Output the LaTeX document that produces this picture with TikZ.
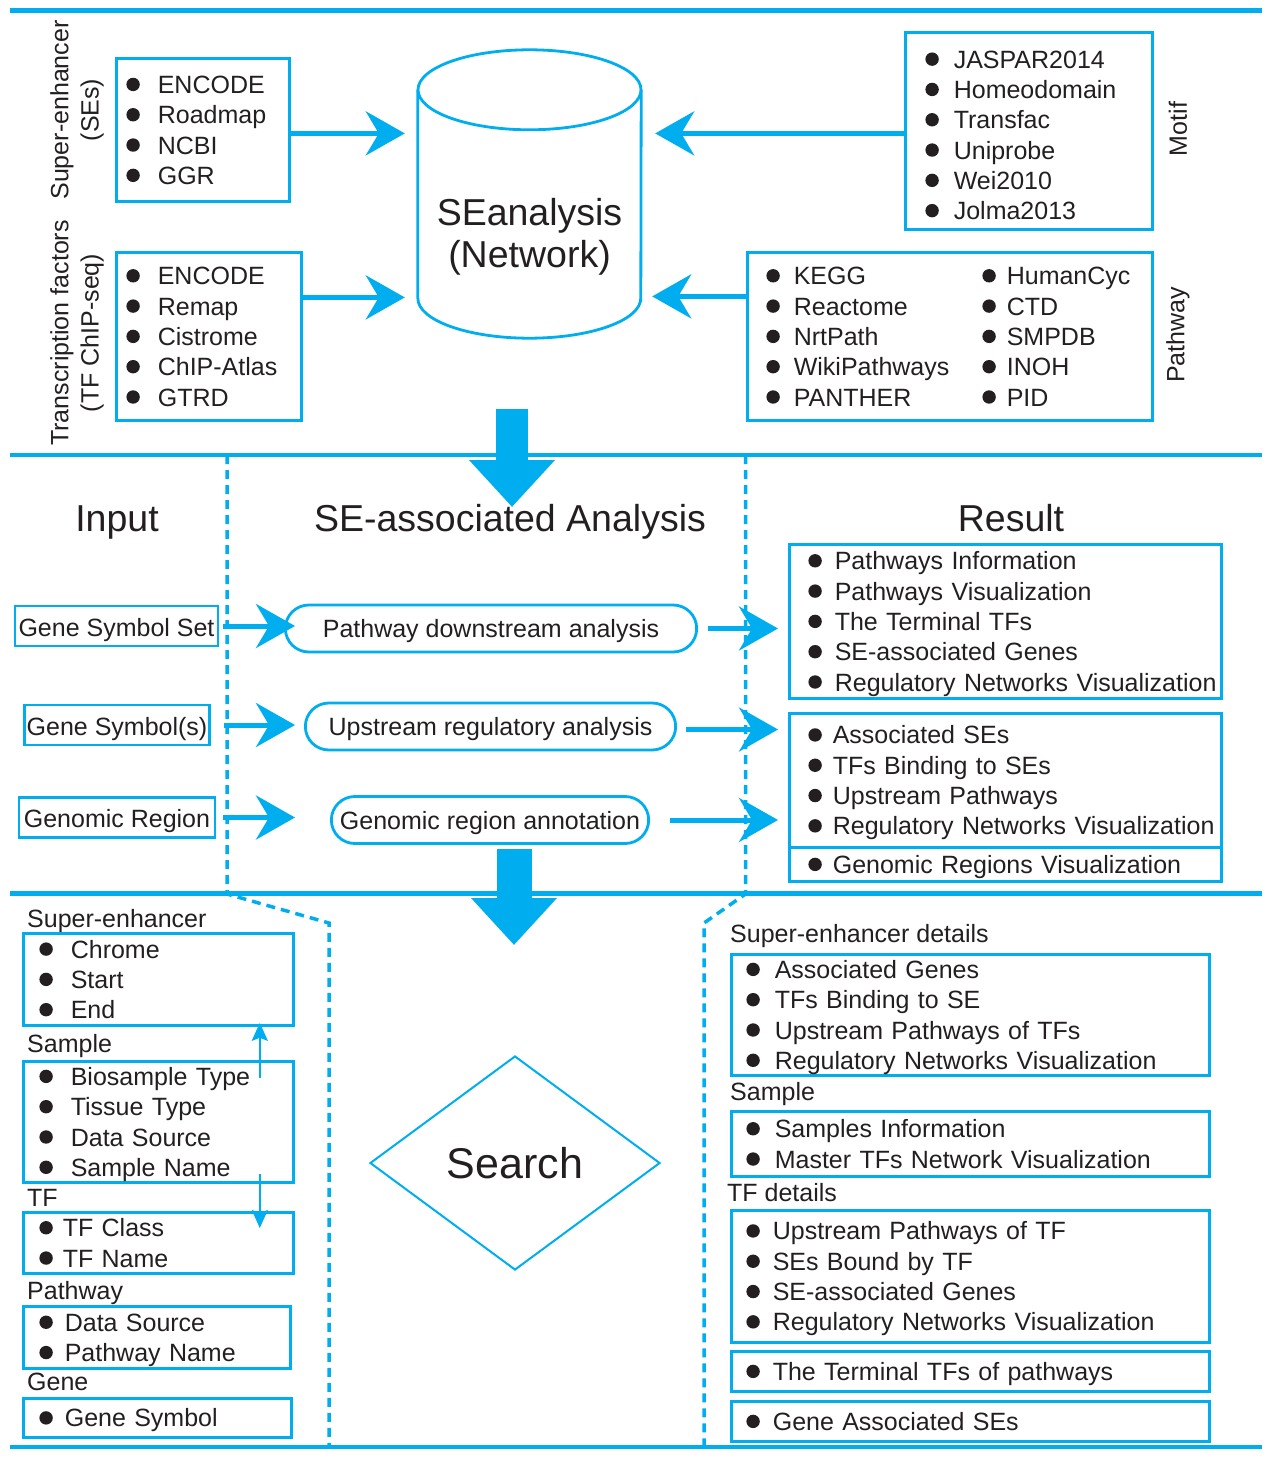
\documentclass[tikz,border=0pt]{standalone}
\usepackage{fontspec}
\setmainfont{Liberation Sans}
\usetikzlibrary{arrows.meta, shapes.geometric, shapes.misc, positioning, calc}
\definecolor{seblue}{HTML}{00AEEF}
\definecolor{ink}{HTML}{231F20}
\newlength\bulgap
\newlength\bulindent
\newcommand{\itemfont}{\fontsize{25}{30.3}\selectfont}
\newcommand{\bigfont}{\fontsize{37.5}{42}\selectfont}
\newcommand{\bulb}{\tikz[baseline=-9pt]{\path (0,-15pt) rectangle (0,15pt); \fill[ink] (0,0) circle (6.7pt);}\hspace{\bulgap}}
\newcommand{\bul}{\hspace*{\bulindent}\bulb}
\newcommand{\twocol}[2]{\makebox[\dimexpr216pt+\bulindent\relax][l]{\bul #1}{\setlength\bulgap{11pt}\bulb #2}}

\begin{document}
\begin{tikzpicture}[x=1pt, y=1pt,
    every node/.style={text=ink},
    rule/.style={seblue, line width=4.5pt},
    divider/.style={seblue, line width=3.5pt, dash pattern=on 9pt off 6pt},
    bgap/.code={\setlength\bulgap{#1}},
    bind/.code={\setlength\bulindent{#1}},
    listbox/.style={draw=seblue, line width=2.8pt, anchor=north west, align=left, inner xsep=3pt, inner ysep=0pt, font=\itemfont},
    inbox/.style={draw=seblue, line width=2.8pt, font=\itemfont, minimum height=40pt, inner xsep=2pt, inner ysep=0pt, text height=23pt, text depth=3pt},
    pill/.style={draw=seblue, line width=2.8pt, rounded rectangle, font=\itemfont, minimum height=47pt, inner ysep=0pt, text height=22pt, text depth=4pt},
    head/.style={font=\itemfont, anchor=base west, inner sep=0pt},
    side/.style={font=\itemfont, rotate=90, align=center, inner sep=0pt},
    title/.style={font=\bigfont, anchor=base, inner sep=0pt},
    bigarrow/.style={seblue, line width=5pt, -{Stealth[length=39pt, width=44pt, inset=13pt]}},
    thinarrow/.style={seblue, line width=2pt, -{Stealth[length=18pt, width=16pt, inset=3pt]}},
    fatarrow/.style={seblue, line width=#1, -{Triangle[length=47pt, width=83pt]}}
]
\useasboundingbox (0,0) rectangle (1269,-1463);

% section rules and dashed dividers
\foreach \y in {10.5,455,893.5,1447}
    \draw[rule] (10,-\y) -- (1262,-\y);
\draw[divider] (227,-455) -- (227,-894) -- (329,-923) -- (329,-1447);
\draw[divider] (745.5,-455) -- (745.5,-894) -- (704,-923) -- (704,-1447);

% data sources
\node[side] (seLab) at (77,-110) {Super-enhancer\\(SEs)};
\node[side] (tfLab) at (77,-333) {Transcription factors\\(TF ChIP-seq)};
\node[side] (motifLab) at (1178,-129) {Motif};
\node[side] (pathLab) at (1178,-335) {Pathway};

\node[listbox, bgap=18pt, bind=7pt, text width=167pt, minimum height=143pt] (seSrc) at (115,-57)
    {\bul ENCODE\\\bul Roadmap\\\bul NCBI\\\bul GGR};
\node[listbox, bgap=18pt, bind=7pt, text width=179pt, minimum height=168pt] (tfSrc) at (115,-251)
    {\bul ENCODE\\\bul Remap\\\bul Cistrome\\\bul ChIP-Atlas\\\bul GTRD};
\node[listbox, bgap=15pt, bind=17pt, text width=241pt, minimum height=197pt, text depth=149.5pt] (motif) at (904,-31)
    {\bul JASPAR2014\\\bul Homeodomain\\\bul Transfac\\\bul Uniprobe\\\bul Wei2010\\\bul Jolma2013};
\node[listbox, bgap=14pt, bind=16pt, text width=399pt, minimum height=168pt] (pathway) at (746,-251)
    {\twocol{KEGG}{HumanCyc}\\\twocol{Reactome}{CTD}\\\twocol{NrtPath}{SMPDB}\\\twocol{WikiPathways}{INOH}\\\twocol{PANTHER}{PID}};

% database cylinder
\node[font=\bigfont, align=center, minimum width=223pt, minimum height=202pt, inner sep=0pt] (db) at (529.5,-237) {SEanalysis\\(Network)};
\draw[seblue, line width=2.8pt] ([yshift=46pt]db.north) ellipse [x radius=111.5, y radius=40];
\draw[seblue, line width=2.8pt] ([yshift=46pt]db.north west) -- ([yshift=40pt]db.south west)
    arc [start angle=180, end angle=360, x radius=111.5, y radius=40] -- ([yshift=46pt]db.north east);

\coordinate (seOut) at ([yshift=-3.5pt]seSrc.east);
\coordinate (tfOut) at ([yshift=39pt]tfSrc.east);
\coordinate (motifOut) at ([yshift=-2.5pt]motif.west);
\coordinate (pathOut) at ([yshift=40pt]pathway.west);
\draw[bigarrow, shorten >=13pt] (seOut) -- (seOut -| db.west);
\draw[bigarrow, shorten >=13pt] (tfOut) -- (tfOut -| db.west);
\draw[bigarrow, shorten >=14pt] (motifOut) -- (motifOut -| db.east);
\draw[bigarrow, shorten >=11pt] (pathOut) -- (pathOut -| db.east);

\coordinate (fatA) at (512,-409);
\coordinate (fatB) at (512,-507);
\draw[fatarrow=32pt] (fatA) -- (fatB);

% analysis
\node[title] (inTitle) at (117,-531) {Input};
\node[title] (anTitle) at (510,-531) {SE-associated Analysis};
\node[title] (resTitle) at (1011,-531) {Result};

\node[inbox, minimum width=203pt] (geneSet) at (116.5,-626) {Gene Symbol Set};
\node[inbox, minimum width=184pt] (geneSyms) at (117,-725) {Gene Symbol(s)};
\node[inbox, minimum width=196pt] (genReg) at (117,-817.5) {Genomic Region};

\node[pill, minimum width=418pt] (pathDown) at (491,-628.5) {Pathway downstream analysis};
\node[pill, minimum width=377pt] (upReg) at (490.5,-726.5) {Upstream regulatory analysis};
\node[pill, minimum width=324pt] (genAnno) at (490,-820) {Genomic region annotation};

\node[listbox, bgap=13pt, bind=16pt, text width=426pt, minimum height=154pt] (res1) at (788,-543)
    {\bul Pathways Information\\\bul Pathways Visualization\\\bul The Terminal TFs\\\bul SE-associated Genes\\\bul Regulatory Networks Visualization};
\node[listbox, bgap=11pt, bind=16pt, text width=426pt, minimum height=134pt] (res2) at (788,-712)
    {\bul Associated SEs\\\bul TFs Binding to SEs\\\bul Upstream Pathways\\\bul Regulatory Networks Visualization};
\node[listbox, bgap=11pt, bind=16pt, text width=426pt, minimum height=34pt] (res3) at (788,-846)
    {\bul Genomic Regions Visualization};

\coordinate (inTip) at (295,0);
\draw[bigarrow, shorten <=4pt] (geneSet.east) -- (geneSet.east -| inTip);
\draw[bigarrow, shorten <=13pt] (geneSyms.east) -- (geneSyms.east -| inTip);
\draw[bigarrow, shorten <=7pt] (genReg.east) -- (genReg.east -| inTip);
\draw[bigarrow, shorten <=10pt, shorten >=10pt] (pathDown.east) -- (pathDown.east -| res1.west);
\draw[bigarrow, shorten <=9pt, shorten >=10pt] ([yshift=-3pt]upReg.east) -- ([yshift=-3pt]upReg.east -| res2.west);
\draw[bigarrow, shorten <=20pt, shorten >=10pt] (genAnno.east) -- (genAnno.east -| res2.west);

\coordinate (fatC) at (514,-849);
\coordinate (fatD) at (514,-945);
\draw[fatarrow=35pt] (fatC) -- (fatD);

% search
\node[head] (seHead) at (27,-927) {Super-enhancer};
\node[listbox, bgap=18pt, bind=13pt, text width=264pt, minimum height=92pt] (bSe) at (22,-932)
    {\bul Chrome\\\bul Start\\\bul End};
\node[head] (smHead) at (27,-1052) {Sample};
\node[listbox, bgap=18pt, bind=13pt, text width=264pt, minimum height=120pt] (bSm) at (22,-1060)
    {\bul Biosample Type\\\bul Tissue Type\\\bul Data Source\\\bul Sample Name};
\node[head] (tfHead) at (27,-1206) {TF};
\node[listbox, bgap=10pt, bind=13pt, text width=264pt, minimum height=61pt] (bTf) at (22,-1211)
    {\bul TF Class\\\bul TF Name};
\node[head] (pwHead) at (27,-1299) {Pathway};
\node[listbox, bgap=12pt, bind=13pt, text width=261pt, minimum height=62pt] (bPw) at (22,-1305)
    {\bul Data Source\\\bul Pathway Name};
\node[head] (gnHead) at (27,-1390) {Gene};
\node[listbox, bgap=12pt, bind=13pt, text width=262pt, minimum height=39pt] (bGn) at (22,-1397)
    {\bul Gene Symbol};

\draw[thinarrow] ([shift={(-35,-18)}]bSm.north east) -- ([shift={(-35,4)}]bSe.south east);
\draw[thinarrow] ([shift={(-35,10)}]bSm.south east) -- ([shift={(-35,-17)}]bTf.north east);

\node[diamond, draw=seblue, line width=2pt, minimum width=290pt, minimum height=214pt, inner sep=0pt, font=\fontsize{43}{48}\selectfont] (search) at (515,-1163) {Search};

\node[head] (rSeHead) at (730,-942) {Super-enhancer details};
\node[listbox, bgap=15pt, bind=12pt, text width=472pt, minimum height=120pt] (rSe) at (730,-953)
    {\bul Associated Genes\\\bul TFs Binding to SE\\\bul Upstream Pathways of TFs\\\bul Regulatory Networks Visualization};
\node[head] (rSmHead) at (730,-1100) {Sample};
\node[listbox, bgap=15pt, bind=12pt, text width=472pt, minimum height=65pt] (rSm) at (730,-1110)
    {\bul Samples Information\\\bul Master TFs Network Visualization};
\node[head] (rTfHead) at (727,-1201) {TF details};
\node[listbox, bgap=13pt, bind=12pt, text width=472pt, minimum height=132pt] (rTf) at (730,-1209)
    {\bul Upstream Pathways of TF\\\bul SEs Bound by TF\\\bul SE-associated Genes\\\bul Regulatory Networks Visualization};
\node[listbox, bgap=13pt, bind=12pt, text width=472pt, minimum height=40pt] (rTt) at (730,-1350)
    {\bul The Terminal TFs of pathways};
\node[listbox, bgap=13pt, bind=12pt, text width=472pt, minimum height=40pt] (rGa) at (730,-1400)
    {\bul Gene Associated SEs};
\end{tikzpicture}
\end{document}
